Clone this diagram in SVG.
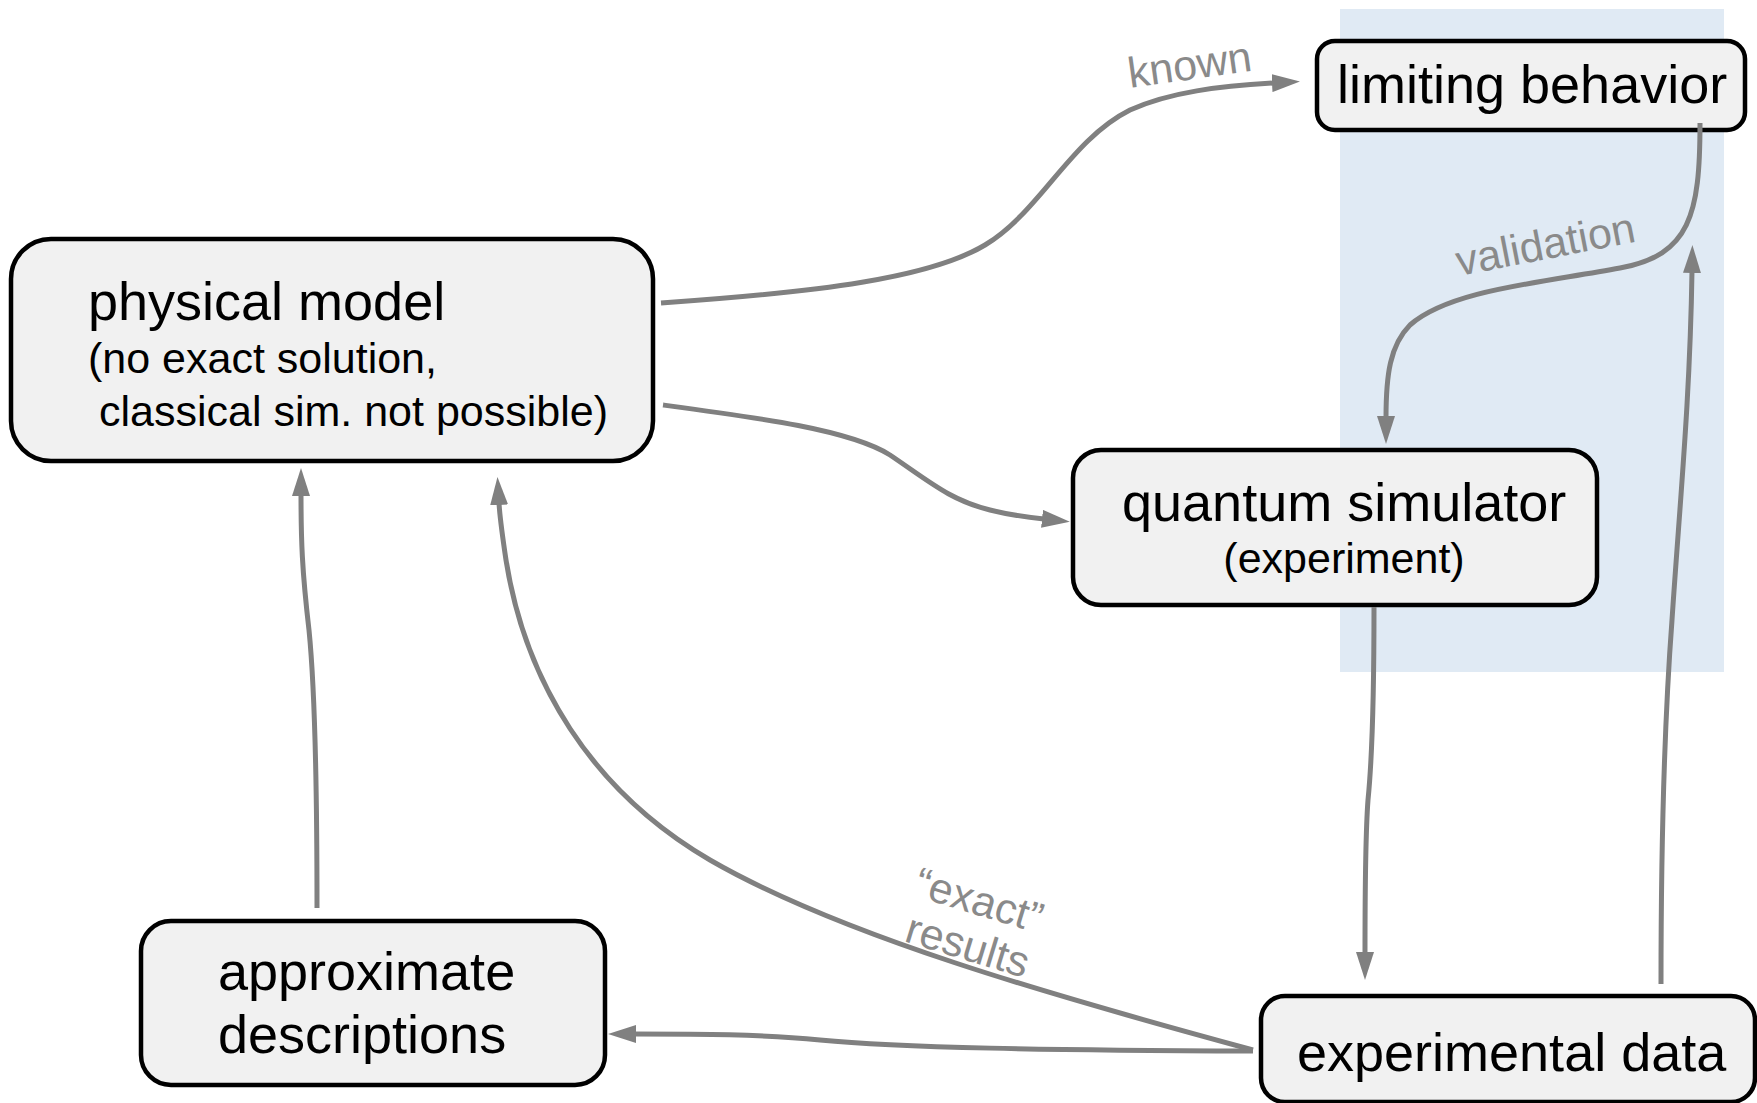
<svg xmlns="http://www.w3.org/2000/svg" width="1757" height="1103" viewBox="0 0 1757 1103">
  <style>
    .box { fill: #f1f1f1; stroke: #000; stroke-width: 4.5; }
    .title { font-family: "Liberation Sans", Arial, sans-serif; font-size: 54px; fill: #000; }
    .sub { font-family: "Liberation Sans", Arial, sans-serif; font-size: 43px; fill: #000; }
    .edge { fill: none; stroke: #808080; stroke-width: 5; marker-end: url(#arrow); }
    .lbl { font-family: "Liberation Sans", Arial, sans-serif; font-size: 43px; fill: #8a8a8a; }
  </style>
  <defs>
    <marker id="arrow" markerUnits="userSpaceOnUse" markerWidth="28" markerHeight="18" refX="2" refY="9" orient="auto">
      <path d="M0,0 L28,9 L0,18 z" fill="#808080"/>
    </marker>
  </defs>

  <rect width="1757" height="1103" fill="#fff"/>

  <!-- shaded validation band -->
  <rect id="validation-band" x="1340" y="9" width="384" height="663" fill="#e0eaf4"/>

  <g id="physical-model">
    <rect class="box" x="11" y="239" width="642" height="222" rx="40"/>
    <text class="title" x="88" y="320">physical model</text>
    <text class="sub" x="88" y="373">(no exact solution,</text>
    <text class="sub" x="99" y="426">classical sim. not possible)</text>
  </g>

  <g id="limiting-behavior">
    <rect class="box" x="1317" y="41" width="428" height="89" rx="18"/>
    <text class="title" x="1337" y="103">limiting behavior</text>
  </g>

  <g id="quantum-simulator">
    <rect class="box" x="1073" y="450" width="524" height="155" rx="28"/>
    <text class="title" x="1122" y="521">quantum simulator</text>
    <text class="sub" x="1344" y="573" text-anchor="middle">(experiment)</text>
  </g>

  <g id="experimental-data">
    <rect class="box" x="1261" y="996" width="494" height="106" rx="24"/>
    <text class="title" x="1297" y="1071">experimental data</text>
  </g>

  <g id="approximate-descriptions">
    <rect class="box" x="141" y="921" width="464" height="164" rx="30"/>
    <text class="title" x="218" y="990">approximate</text>
    <text class="title" x="218" y="1053">descriptions</text>
  </g>

  <g id="connectors">
    <!-- physical model -> limiting behavior -->
    <path class="edge" d="M661,303 C820,292 930,278 985,245 C1040,212 1070,140 1130,110 C1170,92 1220,86 1274,83"/>
    <!-- physical model -> quantum simulator -->
    <path class="edge" d="M663,405 C760,418 850,430 890,455 C930,482 950,500 990,510 C1010,515 1025,517 1044,519"/>
    <!-- limiting behavior -> quantum simulator -->
    <path class="edge" d="M1700,123 C1700,215 1690,255 1620,268 C1540,283 1450,290 1410,325 C1390,345 1386,375 1386,418"/>
    <!-- quantum simulator -> experimental data -->
    <path class="edge" d="M1374,607 C1374,700 1372,760 1368,800 C1365,840 1365,900 1365,954"/>
    <!-- experimental data -> limiting behavior -->
    <path class="edge" d="M1661,984 C1661,820 1666,700 1672,620 C1680,500 1690,400 1692,271"/>
    <!-- experimental data -> physical model -->
    <path class="edge" d="M1253,1050 C1050,995 840,935 710,860 C590,790 525,680 506,560 C503,540 500,520 499,503"/>
    <!-- experimental data -> approximate descriptions -->
    <path class="edge" d="M1253,1051 C1050,1050 900,1048 820,1040 C760,1034 700,1034 634,1034"/>
    <!-- approximate descriptions -> physical model -->
    <path class="edge" d="M317,908 C317,780 315,690 309,630 C302,570 301,540 301,494"/>

    <text class="lbl" transform="translate(1130,88) rotate(-8)">known</text>
    <text class="lbl" transform="translate(1459,276) rotate(-11)">validation</text>
    <text class="lbl" transform="translate(912,895) rotate(17)">“exact”</text>
    <text class="lbl" transform="translate(903,941) rotate(17)">results</text>
  </g>
</svg>
